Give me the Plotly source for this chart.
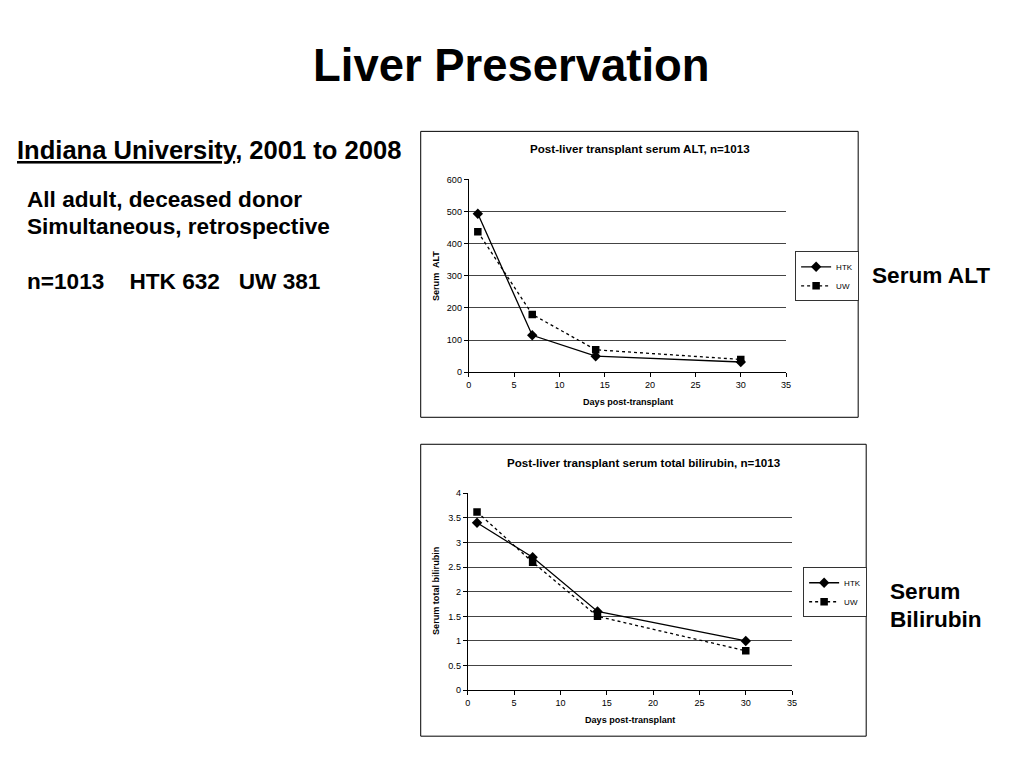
import plotly.graph_objs as go
from plotly.subplots import make_subplots

days = [1, 7, 14, 30]
alt_htk = [493, 115, 50, 32]
alt_uw = [437, 180, 70, 40]
bili_htk = [3.4, 2.7, 1.6, 1.0]
bili_uw = [3.62, 2.6, 1.5, 0.8]

# figure sized to fit inside the page body margin
OFF = 8
W, H = 1024 - 2 * OFF, 768 - 2 * OFF
FONT = 'Liberation Sans, Arial, sans-serif'
# measured screenshot scaling, undone so positions land where the slide has them
SX, BX = 0.991, 3.8
SY, BY = 0.987, 4.7
FS = 1 / 0.99


def px(x):
    return ((x - BX) / SX - OFF) / W


def py(y):
    return 1 - ((y - BY) / SY - OFF) / H


fig = make_subplots(rows=2, cols=1)

# top chart: serum ALT
fig.add_trace(go.Scatter(
    name='HTK', x=days, y=alt_htk, mode='lines+markers',
    line=dict(color='black', width=1.3),
    marker=dict(symbol='diamond', size=8, color='black'),
    legend='legend'), row=1, col=1)
fig.add_trace(go.Scatter(
    name='UW', x=days, y=alt_uw, mode='lines+markers',
    line=dict(color='black', width=1.3, dash='dot'),
    marker=dict(symbol='square', size=7.5, color='black'),
    legend='legend'), row=1, col=1)

# bottom chart: total bilirubin
fig.add_trace(go.Scatter(
    name='HTK', x=days, y=bili_htk, mode='lines+markers',
    line=dict(color='black', width=1.3),
    marker=dict(symbol='diamond', size=8, color='black'),
    legend='legend2'), row=2, col=1)
fig.add_trace(go.Scatter(
    name='UW', x=days, y=bili_uw, mode='lines+markers',
    line=dict(color='black', width=1.3, dash='dot'),
    marker=dict(symbol='square', size=7.5, color='black'),
    legend='legend2'), row=2, col=1)

axis_common = dict(
    showline=True, linecolor='black', linewidth=1, ticks='outside', ticklen=4,
    tickcolor='black', tickfont=dict(size=9 * FS, family=FONT, color='black'), zeroline=False,
)

fig.update_xaxes(domain=[px(469), px(786)], range=[0, 35], dtick=5, showgrid=False,
                 row=1, col=1, **axis_common)
fig.update_yaxes(domain=[py(372), py(179)], range=[0, 600], dtick=100, showgrid=True,
                 gridcolor='#444', gridwidth=1, row=1, col=1, **axis_common)
fig.update_xaxes(domain=[px(468), px(792)], range=[0, 35], dtick=5, showgrid=False,
                 row=2, col=1, **axis_common)
fig.update_yaxes(domain=[py(690), py(493)], range=[0, 4], dtick=0.5, showgrid=True,
                 gridcolor='#444', gridwidth=1, row=2, col=1, **axis_common)


def label(x, y, text, size, anchor='left', angle=0):
    return dict(x=px(x), y=py(y), xanchor=anchor, yanchor='middle',
                text=text, textangle=angle, xref='paper', yref='paper', showarrow=False,
                font=dict(size=size * FS, family=FONT, color='black'))


annotations = [
    # slide texts
    label(512, 65, '<b>Liver Preservation</b>', 45, 'center'),
    label(16, 150, '<b><u>Indiana University</u>, 2001 to 2008</b>', 25.3),
    label(26, 199, '<b>All adult, deceased donor</b>', 22.4),
    label(26, 226, '<b>Simultaneous, retrospective</b>', 22.4),
    label(26, 281, '<b>n=1013    HTK 632   UW 381</b>', 22.4),
    label(870, 275, '<b>Serum ALT</b>', 22.4),
    label(888, 591, '<b>Serum</b>', 22.4),
    label(888, 619, '<b>Bilirubin</b>', 22.4),
    # chart titles
    label(640, 148, '<b>Post-liver transplant serum ALT, n=1013</b>', 11.5, 'center'),
    label(644, 462, '<b>Post-liver transplant serum total bilirubin, n=1013</b>', 11.5, 'center'),
    # axis titles
    label(628, 402, '<b>Days post-transplant</b>', 9, 'center'),
    label(437, 276, '<b>Serum  ALT</b>', 9, 'center', -90),
    label(630, 720, '<b>Days post-transplant</b>', 9, 'center'),
    label(437, 591, '<b>Serum total bilirubin</b>', 9, 'center', -90),
]

shapes = [
    dict(type='rect', xref='paper', yref='paper', x0=px(421), x1=px(858), y0=py(417), y1=py(131),
         line=dict(color='black', width=1)),
    dict(type='rect', xref='paper', yref='paper', x0=px(421), x1=px(866), y0=py(736), y1=py(444),
         line=dict(color='black', width=1)),
]

legend_style = dict(
    bgcolor='white', bordercolor='#333', borderwidth=1,
    font=dict(size=8, family=FONT, color='black'),
    xanchor='left', yanchor='middle', itemwidth=30, tracegroupgap=0,
)

fig.update_layout(
    width=W, height=H,
    margin=dict(l=0, r=0, t=0, b=0),
    paper_bgcolor='white', plot_bgcolor='white',
    annotations=annotations,
    shapes=shapes,
    legend=dict(x=px(795), y=py(276), **legend_style),
    legend2=dict(x=px(803), y=py(592), **legend_style),
)

fig.write_html('out.html')
